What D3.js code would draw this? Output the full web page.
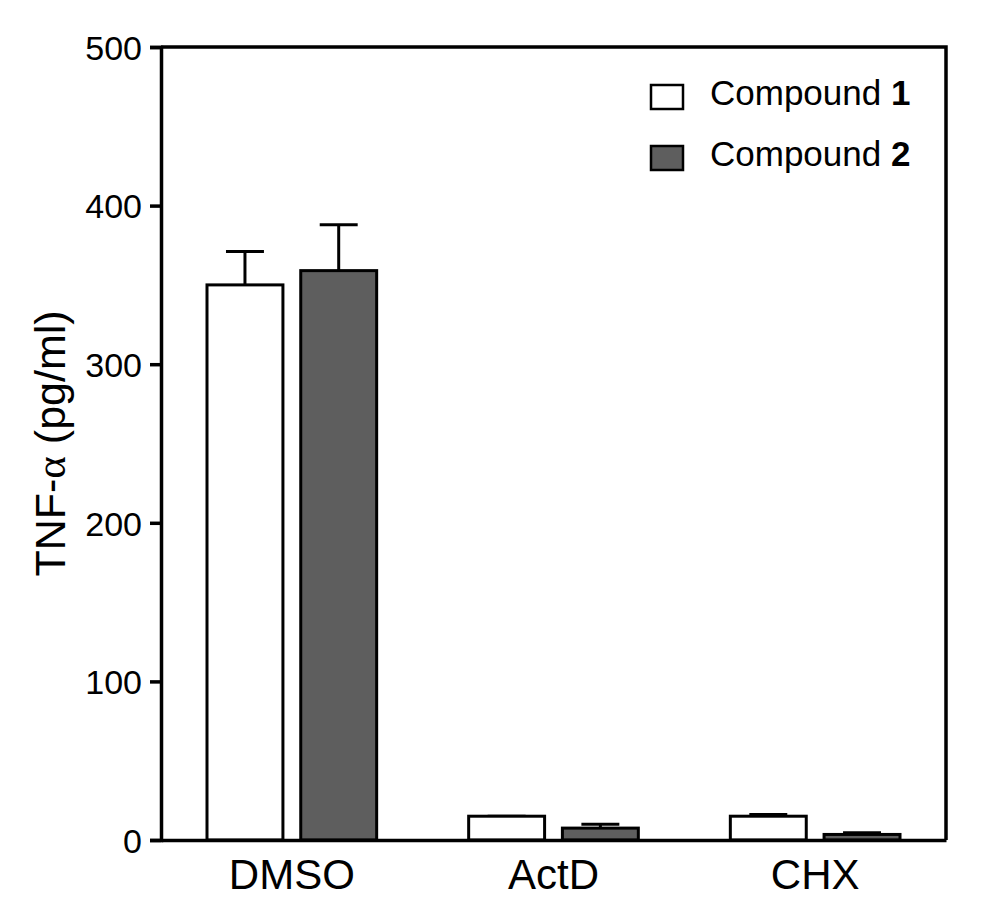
<!DOCTYPE html>
<html>
<head>
<meta charset="utf-8">
<script src="https://cdn.jsdelivr.net/npm/d3@7"></script>
<style>
  body { margin: 0; background: #fff; }
  text { font-family: "Liberation Sans", Arial, sans-serif; fill: #000; }
</style>
</head>
<body>
<div id="chart"></div>
<script>
var width = 989,
    height = 919;

// data
var groups = ["DMSO", "ActD", "CHX"];
var seriesNames = ["1", "2"];
var compound1 = [350, 15, 15];
var compound1Err = [21, 0, 1];
var compound2 = [359, 7.5, 3.5];
var compound2Err = [29, 2.5, 1];
var yTicks = [0, 100, 200, 300, 400, 500];
var colors = ["#ffffff", "#5e5e5e"];

var margin = {left: 161, right: 43, top: 47, bottom: 79};

var svg = d3.select("#chart").append("svg").attr("width", width).attr("height", height);

var y = d3.scaleLinear().domain([0, 500]).range([height - margin.bottom, margin.top]);
var x0 = d3.scaleBand().domain(groups).range([margin.left, width - margin.right]);
var x1 = d3.scaleBand().domain(seriesNames).range([46, x0.bandwidth() - 46]).paddingInner(0.19);

var values = [compound1, compound2];
var errors = [compound1Err, compound2Err];

var rows = [];
groups.forEach(function(g, i) {
    seriesNames.forEach(function(s, j) {
        rows.push({group: g, series: s, idx: j, value: values[j][i], err: errors[j][i]});
    });
});

// error bars (drawn first so the bar outline sits on top)
var eb = svg.append("g").selectAll("g").data(rows).enter().append("g")
    .attr("transform", function(d) { return "translate(" + (x0(d.group) + x1(d.series) + x1.bandwidth() / 2) + ",0)"; });
eb.append("line")
    .attr("x1", 0).attr("x2", 0)
    .attr("y1", function(d) { return y(d.value); })
    .attr("y2", function(d) { return y(d.value + d.err); })
    .attr("stroke", "#000").attr("stroke-width", 3);
eb.append("line")
    .attr("x1", -x1.bandwidth() / 4).attr("x2", x1.bandwidth() / 4)
    .attr("y1", function(d) { return y(d.value + d.err); })
    .attr("y2", function(d) { return y(d.value + d.err); })
    .attr("stroke", "#000").attr("stroke-width", 3);

// bars
svg.append("g").selectAll("rect").data(rows).enter().append("rect")
    .attr("x", function(d) { return x0(d.group) + x1(d.series); })
    .attr("y", function(d) { return y(d.value); })
    .attr("width", x1.bandwidth())
    .attr("height", function(d) { return y(0) - y(d.value); })
    .attr("fill", function(d) { return colors[d.idx]; })
    .attr("stroke", "#000").attr("stroke-width", 3);

// frame: top and right border
svg.append("path")
    .attr("d", "M" + margin.left + "," + y(500) + "H" + (width - margin.right) + "V" + y(0))
    .attr("fill", "none").attr("stroke", "#000").attr("stroke-width", 3.5);

// y axis
var yAxis = svg.append("g").attr("transform", "translate(" + margin.left + ",0)")
    .call(d3.axisLeft(y).tickValues(yTicks).tickSize(11).tickPadding(8));
yAxis.select(".domain").attr("stroke-width", 3.5);
yAxis.selectAll(".tick line").attr("stroke-width", 3.5);
yAxis.selectAll("text").style("font-size", "34px").attr("dy", "0.36em");

// x axis
var xAxis = svg.append("g").attr("transform", "translate(0," + y(0) + ")")
    .call(d3.axisBottom(x0).tickSize(0).tickPadding(19));
xAxis.select(".domain").attr("stroke-width", 3.5);
xAxis.selectAll("text").style("font-size", "42px");

// y axis label
var ylab = svg.append("text")
    .attr("transform", "translate(65," + ((y(0) + y(500)) / 2) + ") rotate(-90)")
    .attr("text-anchor", "middle")
    .style("font-size", "43px");
ylab.append("tspan").text("TNF-");
ylab.append("tspan").style("font-family", "'Liberation Serif', serif").text("α");
ylab.append("tspan").text(" (pg/ml)");

// legend
var legend = svg.append("g").selectAll("g").data(seriesNames).enter().append("g")
    .attr("transform", function(d, i) { return "translate(651," + (85 + i * 61) + ")"; });
legend.append("rect")
    .attr("width", 32).attr("height", 24)
    .attr("fill", function(d, i) { return colors[i]; })
    .attr("stroke", "#000").attr("stroke-width", 2.5);
var lt = legend.append("text").attr("x", 59).attr("y", 20).style("font-size", "35px");
lt.append("tspan").text("Compound ");
lt.append("tspan").style("font-weight", "bold").text(function(d) { return d; });
</script>
</body>
</html>
